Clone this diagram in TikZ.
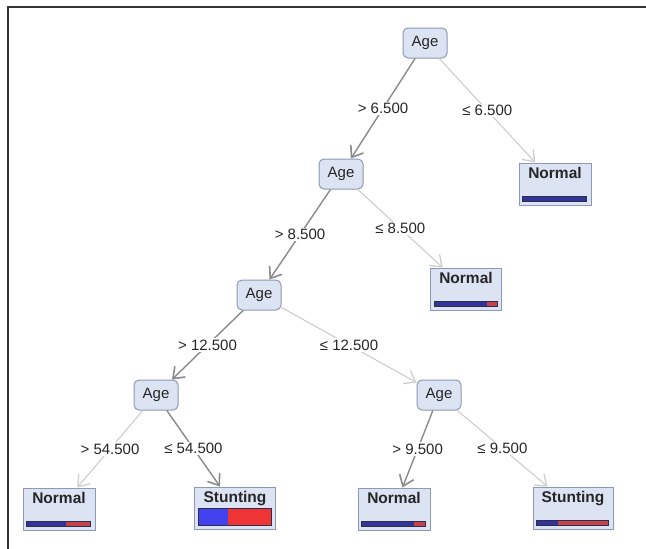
\documentclass[tikz,border=0pt]{standalone}
\usepackage{fontspec}
\setmainfont{Liberation Sans}
\usetikzlibrary{arrows.meta}
\definecolor{boxfill}{HTML}{DCE3F3}
\definecolor{boxline}{HTML}{8C99B6}
\definecolor{edark}{HTML}{8A8A8A}
\definecolor{elight}{HTML}{CDCDCD}
\definecolor{tblue}{HTML}{33339C}
\definecolor{tred}{HTML}{C4424C}
\definecolor{tline}{HTML}{2E2E4A}
\definecolor{bblue}{HTML}{4242EE}
\definecolor{bred}{HTML}{EE3434}
\newcommand\leafbar[6]{%
  \pgfmathsetmacro\bwA{(#2-8)*#3}%
  \pgfmathsetmacro\bwT{(#2-8)}%
  \fill[#5] ([xshift=4pt,yshift=4pt]#1.south west) rectangle ([xshift={(4+\bwA)*1pt},yshift={(4+#4)*1pt}]#1.south west);
  \fill[#6] ([xshift={(4+\bwA)*1pt},yshift=4pt]#1.south west) rectangle ([xshift={(4+\bwT)*1pt},yshift={(4+#4)*1pt}]#1.south west);
  \draw[tline,line width=0.8pt] ([xshift=4pt,yshift=4pt]#1.south west) rectangle ([xshift={(4+\bwT)*1pt},yshift={(4+#4)*1pt}]#1.south west);
}
\tikzset{
  decision/.style={draw=boxline,fill=boxfill,line width=1pt,rounded corners=5pt,
    minimum width=44pt,minimum height=30pt,inner sep=0pt,font=\fontsize{15}{17}\selectfont,text=black!85},
  leaf/.style={draw=boxline,fill=boxfill,line width=1pt,inner sep=3pt,
    text height=12pt,text depth=24pt,font=\fontsize{15.5}{17}\selectfont\bfseries,text=black!85},
  darkedge/.style={draw=edark,line width=1.4pt,-{Straight Barb[length=10pt,width=15pt,line width=1.6pt]}},
  lightedge/.style={draw=elight,line width=1.1pt,-{Straight Barb[length=10pt,width=15pt,line width=1.3pt]}},
  elabel/.style={fill=white,inner sep=1.5pt,font=\fontsize{15}{17}\selectfont,text=black!85}
}
\begin{document}
\begin{tikzpicture}[x=1pt,y=-1pt]
\useasboundingbox (0,0) rectangle (646,549);
\draw[black!80,line width=1.5pt] (8,549) coordinate (fbl) -- (8,7) coordinate (ftl) -- (646,7) coordinate (ftr);
% decision nodes
\node[decision] (a1) at (425,43) {Age};
\node[decision] (a2) at (341,174) {Age};
\node[decision] (a3) at (259,295) {Age};
\node[decision] (a4) at (156,395) {Age};
\node[decision] (a5) at (439,395) {Age};
% leaves
\node[leaf,minimum width=72pt] (l1) at (555,184) {Normal};
\node[leaf,minimum width=71pt] (l2) at (466,289) {Normal};
\node[leaf,minimum width=72pt] (l3) at (59,509) {Normal};
\node[leaf,minimum width=81pt] (l4) at (235,508) {Stunting};
\node[leaf,minimum width=72pt] (l5) at (394,509) {Normal};
\node[leaf,minimum width=80pt] (l6) at (573,508) {Stunting};
% bars
\leafbar{l1}{72}{1.0}{5}{tblue}{tred}
\leafbar{l2}{71}{0.84}{5}{tblue}{tred}
\leafbar{l3}{72}{0.62}{5}{tblue}{tred}
\leafbar{l4}{81}{0.41}{17}{bblue}{bred}
\leafbar{l5}{72}{0.82}{5}{tblue}{tred}
\leafbar{l6}{80}{0.30}{5}{tblue}{tred}
% edges
\draw[darkedge] (a1) -- node[elabel] {> 6.500} (a2);
\draw[lightedge] (a1) -- node[elabel] {≤ 6.500} (l1);
\draw[darkedge] (a2) -- node[elabel] {> 8.500} (a3);
\draw[lightedge] (a2) -- node[elabel] {≤ 8.500} (l2);
\draw[darkedge] (a3) -- node[elabel] {> 12.500} (a4);
\draw[lightedge] (a3) -- node[elabel] {≤ 12.500} (a5);
\draw[lightedge] (a4) -- node[elabel] {> 54.500} (l3);
\draw[darkedge] (a4) -- node[elabel] {≤ 54.500} (l4);
\draw[darkedge] (a5) -- node[elabel] {> 9.500} (l5);
\draw[lightedge] (a5) -- node[elabel] {≤ 9.500} (l6);
\end{tikzpicture}
\end{document}
